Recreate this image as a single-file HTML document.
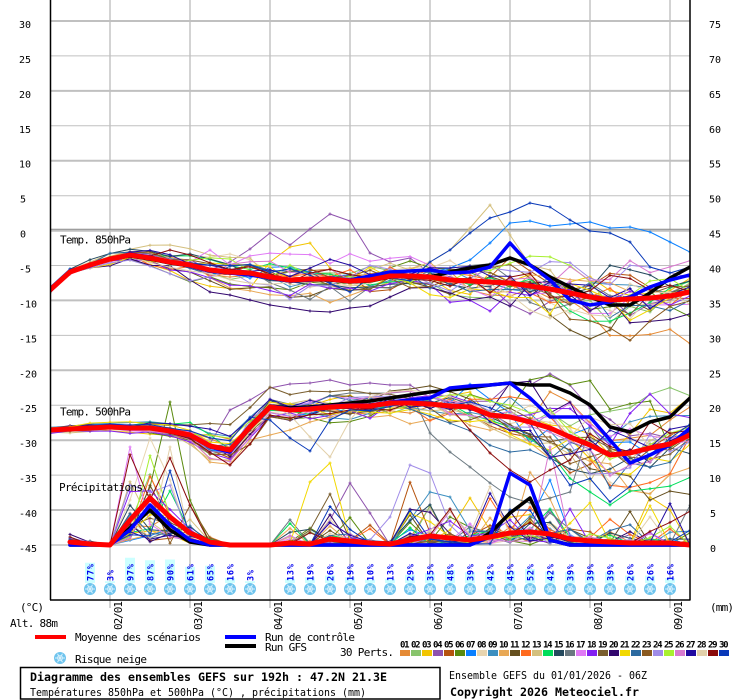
<!DOCTYPE html>
<html><head><meta charset="utf-8"><style>
html,body{margin:0;padding:0;background:#fff;}
svg{display:block;}
text{font-family:"DejaVu Sans Mono","Liberation Mono",monospace;fill:#000;}
</style></head><body>
<svg id="c" width="740" height="700" viewBox="0 0 740 700" xmlns="http://www.w3.org/2000/svg">
<defs>
<clipPath id="clp"><rect x="50" y="0" width="640" height="600"/></clipPath>
<g id="fl"><circle r="6" fill="#6ec4ee"/><path d="M-5 0H5M-2.5 -4.3L2.5 4.3M-2.5 4.3L2.5 -4.3" stroke="#fff" stroke-width="1" opacity="0.75"/><circle r="2.6" fill="none" stroke="#d0f0ff" stroke-width="0.8"/></g>
</defs>
<rect width="740" height="700" fill="#fff"/>
<g stroke="#c0c0c0" fill="none">
<line x1="50" x2="690" y1="21" y2="21" stroke-width="2"/>
<line x1="50" x2="690" y1="55.9" y2="55.9" stroke-width="1"/>
<line x1="50" x2="690" y1="90.9" y2="90.9" stroke-width="2"/>
<line x1="50" x2="690" y1="125.8" y2="125.8" stroke-width="1"/>
<line x1="50" x2="690" y1="160.7" y2="160.7" stroke-width="2"/>
<line x1="50" x2="690" y1="195.7" y2="195.7" stroke-width="1"/>
<line x1="50" x2="690" y1="265.5" y2="265.5" stroke-width="1"/>
<line x1="50" x2="690" y1="300.4" y2="300.4" stroke-width="2"/>
<line x1="50" x2="690" y1="335.4" y2="335.4" stroke-width="1"/>
<line x1="50" x2="690" y1="370.3" y2="370.3" stroke-width="2"/>
<line x1="50" x2="690" y1="405.2" y2="405.2" stroke-width="1"/>
<line x1="50" x2="690" y1="440.2" y2="440.2" stroke-width="2"/>
<line x1="50" x2="690" y1="475.1" y2="475.1" stroke-width="1"/>
<line x1="50" x2="690" y1="510" y2="510" stroke-width="2"/>
<line x1="50" x2="690" y1="545" y2="545" stroke-width="1.5"/>
<line x1="50" x2="690" y1="230.8" y2="230.8" stroke-width="2"/>
<line x1="110" x2="110" y1="0" y2="608" stroke-width="1.4"/>
<line x1="190" x2="190" y1="0" y2="608" stroke-width="1.4"/>
<line x1="270" x2="270" y1="0" y2="608" stroke-width="1.4"/>
<line x1="350" x2="350" y1="0" y2="608" stroke-width="1.4"/>
<line x1="430" x2="430" y1="0" y2="608" stroke-width="1.4"/>
<line x1="510" x2="510" y1="0" y2="608" stroke-width="1.4"/>
<line x1="590" x2="590" y1="0" y2="608" stroke-width="1.4"/>
<line x1="670" x2="670" y1="0" y2="608" stroke-width="1.4"/>
</g>
<line x1="50" x2="690" y1="229.2" y2="229.2" stroke="#888" stroke-width="1"/>

<!-- snow risk -->
<g fill="#ccffff">
<rect x="85" y="562.75" width="10" height="20.25"/>
<rect x="105" y="581.25" width="10" height="1.75"/>
<rect x="125" y="557.75" width="10" height="25.25"/>
<rect x="145" y="560.25" width="10" height="22.75"/>
<rect x="165" y="559.5" width="10" height="23.5"/>
<rect x="185" y="566.75" width="10" height="16.25"/>
<rect x="205" y="565.75" width="10" height="17.25"/>
<rect x="225" y="578" width="10" height="5"/>
<rect x="245" y="581.25" width="10" height="1.75"/>
<rect x="285" y="578.75" width="10" height="4.25"/>
<rect x="305" y="577.25" width="10" height="5.75"/>
<rect x="325" y="575.5" width="10" height="7.5"/>
<rect x="345" y="577.25" width="10" height="5.75"/>
<rect x="365" y="579.5" width="10" height="3.5"/>
<rect x="385" y="578.75" width="10" height="4.25"/>
<rect x="405" y="574.75" width="10" height="8.25"/>
<rect x="425" y="573.25" width="10" height="9.75"/>
<rect x="445" y="570" width="10" height="13"/>
<rect x="465" y="572.25" width="10" height="10.75"/>
<rect x="485" y="571.5" width="10" height="11.5"/>
<rect x="505" y="570.75" width="10" height="12.25"/>
<rect x="525" y="569" width="10" height="14"/>
<rect x="545" y="571.5" width="10" height="11.5"/>
<rect x="565" y="572.25" width="10" height="10.75"/>
<rect x="585" y="572.25" width="10" height="10.75"/>
<rect x="605" y="572.25" width="10" height="10.75"/>
<rect x="625" y="575.5" width="10" height="7.5"/>
<rect x="645" y="575.5" width="10" height="7.5"/>
<rect x="665" y="578" width="10" height="5"/>
</g>
<g font-size="8.5" font-weight="bold" lengthAdjust="spacingAndGlyphs">
<text transform="translate(93.5,581) rotate(-90)" textLength="17" style="fill:#0000f0">77%</text>
<text transform="translate(113.5,581) rotate(-90)" textLength="11" style="fill:#0000f0">3%</text>
<text transform="translate(133.5,581) rotate(-90)" textLength="17" style="fill:#0000f0">97%</text>
<text transform="translate(153.5,581) rotate(-90)" textLength="17" style="fill:#0000f0">87%</text>
<text transform="translate(173.5,581) rotate(-90)" textLength="17" style="fill:#0000f0">90%</text>
<text transform="translate(193.5,581) rotate(-90)" textLength="17" style="fill:#0000f0">61%</text>
<text transform="translate(213.5,581) rotate(-90)" textLength="17" style="fill:#0000f0">65%</text>
<text transform="translate(233.5,581) rotate(-90)" textLength="17" style="fill:#0000f0">16%</text>
<text transform="translate(253.5,581) rotate(-90)" textLength="11" style="fill:#0000f0">3%</text>
<text transform="translate(293.5,581) rotate(-90)" textLength="17" style="fill:#0000f0">13%</text>
<text transform="translate(313.5,581) rotate(-90)" textLength="17" style="fill:#0000f0">19%</text>
<text transform="translate(333.5,581) rotate(-90)" textLength="17" style="fill:#0000f0">26%</text>
<text transform="translate(353.5,581) rotate(-90)" textLength="17" style="fill:#0000f0">19%</text>
<text transform="translate(373.5,581) rotate(-90)" textLength="17" style="fill:#0000f0">10%</text>
<text transform="translate(393.5,581) rotate(-90)" textLength="17" style="fill:#0000f0">13%</text>
<text transform="translate(413.5,581) rotate(-90)" textLength="17" style="fill:#0000f0">29%</text>
<text transform="translate(433.5,581) rotate(-90)" textLength="17" style="fill:#0000f0">35%</text>
<text transform="translate(453.5,581) rotate(-90)" textLength="17" style="fill:#0000f0">48%</text>
<text transform="translate(473.5,581) rotate(-90)" textLength="17" style="fill:#0000f0">39%</text>
<text transform="translate(493.5,581) rotate(-90)" textLength="17" style="fill:#0000f0">42%</text>
<text transform="translate(513.5,581) rotate(-90)" textLength="17" style="fill:#0000f0">45%</text>
<text transform="translate(533.5,581) rotate(-90)" textLength="17" style="fill:#0000f0">52%</text>
<text transform="translate(553.5,581) rotate(-90)" textLength="17" style="fill:#0000f0">42%</text>
<text transform="translate(573.5,581) rotate(-90)" textLength="17" style="fill:#0000f0">39%</text>
<text transform="translate(593.5,581) rotate(-90)" textLength="17" style="fill:#0000f0">39%</text>
<text transform="translate(613.5,581) rotate(-90)" textLength="17" style="fill:#0000f0">39%</text>
<text transform="translate(633.5,581) rotate(-90)" textLength="17" style="fill:#0000f0">26%</text>
<text transform="translate(653.5,581) rotate(-90)" textLength="17" style="fill:#0000f0">26%</text>
<text transform="translate(673.5,581) rotate(-90)" textLength="17" style="fill:#0000f0">16%</text>
</g>
<use href="#fl" x="90" y="589"/><use href="#fl" x="110" y="589"/><use href="#fl" x="130" y="589"/><use href="#fl" x="150" y="589"/><use href="#fl" x="170" y="589"/><use href="#fl" x="190" y="589"/><use href="#fl" x="210" y="589"/><use href="#fl" x="230" y="589"/><use href="#fl" x="250" y="589"/><use href="#fl" x="290" y="589"/><use href="#fl" x="310" y="589"/><use href="#fl" x="330" y="589"/><use href="#fl" x="350" y="589"/><use href="#fl" x="370" y="589"/><use href="#fl" x="390" y="589"/><use href="#fl" x="410" y="589"/><use href="#fl" x="430" y="589"/><use href="#fl" x="450" y="589"/><use href="#fl" x="470" y="589"/><use href="#fl" x="490" y="589"/><use href="#fl" x="510" y="589"/><use href="#fl" x="530" y="589"/><use href="#fl" x="550" y="589"/><use href="#fl" x="570" y="589"/><use href="#fl" x="590" y="589"/><use href="#fl" x="610" y="589"/><use href="#fl" x="630" y="589"/><use href="#fl" x="650" y="589"/><use href="#fl" x="670" y="589"/>

<g id="data" clip-path="url(#clp)"></g>

<!-- frame -->
<g stroke="#000" stroke-width="1.5">
<line x1="50.5" y1="0" x2="50.5" y2="600"/>
<line x1="50" y1="600" x2="690.5" y2="600"/>
<line x1="690" y1="0" x2="690" y2="600"/>
</g>

<!-- in-plot labels -->
<g font-size="11" lengthAdjust="spacingAndGlyphs">
<text x="60" y="243.5" textLength="71">Temp. 850hPa</text>
<text x="60" y="415.5" textLength="71">Temp. 500hPa</text>
<text x="59" y="491" textLength="84">Précipitations</text>
</g>

<!-- left axis -->
<g font-size="10">
<text x="19" y="28">30</text><text x="19" y="62.9">25</text><text x="19" y="97.9">20</text><text x="19" y="132.8">15</text><text x="19" y="167.7">10</text><text x="20" y="202.7">5</text><text x="20" y="237.6">0</text><text x="19" y="272.5">-5</text><text x="19" y="307.4">-10</text><text x="19" y="342.4">-15</text><text x="19" y="377.3">-20</text><text x="19" y="412.2">-25</text><text x="19" y="447.2">-30</text><text x="19" y="482.1">-35</text><text x="19" y="517">-40</text><text x="19" y="552">-45</text>
</g>
<!-- right axis -->
<g font-size="10">
<text x="709" y="28">75</text><text x="709" y="62.9">70</text><text x="709" y="97.9">65</text><text x="709" y="132.8">60</text><text x="709" y="167.7">55</text><text x="709" y="202.7">50</text><text x="709" y="237.6">45</text><text x="709" y="272.5">40</text><text x="709" y="307.4">35</text><text x="709" y="342.4">30</text><text x="709" y="377.3">25</text><text x="709" y="412.2">20</text><text x="709" y="447.2">15</text><text x="709" y="482.1">10</text><text x="710" y="517">5</text><text x="710" y="552">0</text>
</g>
<g font-size="11" lengthAdjust="spacingAndGlyphs">
<text x="20" y="611" textLength="24">(°C)</text>
<text x="10" y="627" textLength="48">Alt. 88m</text>
<text x="710" y="611" textLength="24">(mm)</text>
</g>
<!-- dates -->
<g font-size="11" lengthAdjust="spacingAndGlyphs">
<text transform="translate(122,630) rotate(-90)" textLength="29">02/01</text>
<text transform="translate(202,630) rotate(-90)" textLength="29">03/01</text>
<text transform="translate(282,630) rotate(-90)" textLength="29">04/01</text>
<text transform="translate(362,630) rotate(-90)" textLength="29">05/01</text>
<text transform="translate(442,630) rotate(-90)" textLength="29">06/01</text>
<text transform="translate(522,630) rotate(-90)" textLength="29">07/01</text>
<text transform="translate(602,630) rotate(-90)" textLength="29">08/01</text>
<text transform="translate(682,630) rotate(-90)" textLength="29">09/01</text>
</g>

<!-- legend -->
<rect x="35" y="635" width="31" height="4" fill="#ff0000"/>
<rect x="225" y="635" width="31" height="4" fill="#0000ff"/>
<rect x="225" y="644" width="31" height="4" fill="#000"/>
<g font-size="11" lengthAdjust="spacingAndGlyphs">
<text x="75" y="641" textLength="126">Moyenne des scénarios</text>
<text x="265" y="641" textLength="90">Run de contrôle</text>
<text x="265" y="651" textLength="42">Run GFS</text>
<text x="340" y="656" textLength="54">30 Perts.</text>
<text x="75" y="663" textLength="72">Risque neige</text>
</g>
<use href="#fl" x="60" y="658"/>

<!-- member swatches -->
<g>
<rect x="400" y="650" width="10" height="6" fill="#e58a35"/><rect x="411" y="650" width="10" height="6" fill="#88c46c"/><rect x="422" y="650" width="10" height="6" fill="#f2c500"/><rect x="433" y="650" width="10" height="6" fill="#8e52ad"/><rect x="444" y="650" width="10" height="6" fill="#b5530e"/><rect x="455" y="650" width="10" height="6" fill="#5a8a0e"/><rect x="466" y="650" width="10" height="6" fill="#0a80ff"/><rect x="477" y="650" width="10" height="6" fill="#e8d5b0"/><rect x="488" y="650" width="10" height="6" fill="#3c8fc0"/><rect x="499" y="650" width="10" height="6" fill="#e8a855"/><rect x="510" y="650" width="10" height="6" fill="#654f1e"/><rect x="521" y="650" width="10" height="6" fill="#ff6a1e"/><rect x="532" y="650" width="10" height="6" fill="#d4c07e"/><rect x="543" y="650" width="10" height="6" fill="#00dd5a"/><rect x="554" y="650" width="10" height="6" fill="#254a5e"/><rect x="565" y="650" width="10" height="6" fill="#6a7880"/><rect x="576" y="650" width="10" height="6" fill="#e07af5"/><rect x="587" y="650" width="10" height="6" fill="#8320f2"/><rect x="598" y="650" width="10" height="6" fill="#7a5e2e"/><rect x="609" y="650" width="10" height="6" fill="#32066e"/><rect x="620" y="650" width="10" height="6" fill="#f2d800"/><rect x="631" y="650" width="10" height="6" fill="#2c6aa0"/><rect x="642" y="650" width="10" height="6" fill="#8a5a20"/><rect x="653" y="650" width="10" height="6" fill="#a08ce8"/><rect x="664" y="650" width="10" height="6" fill="#a8f030"/><rect x="675" y="650" width="10" height="6" fill="#d87ad0"/><rect x="686" y="650" width="10" height="6" fill="#200aa0"/><rect x="697" y="650" width="10" height="6" fill="#e2d0aa"/><rect x="708" y="650" width="10" height="6" fill="#8a0a0a"/><rect x="719" y="650" width="10" height="6" fill="#0838b8"/>
</g>
<g font-size="9" font-weight="bold" lengthAdjust="spacingAndGlyphs">
<text x="400" y="647.5" textLength="9.5">01</text><text x="411" y="647.5" textLength="9.5">02</text><text x="422" y="647.5" textLength="9.5">03</text><text x="433" y="647.5" textLength="9.5">04</text><text x="444" y="647.5" textLength="9.5">05</text><text x="455" y="647.5" textLength="9.5">06</text><text x="466" y="647.5" textLength="9.5">07</text><text x="477" y="647.5" textLength="9.5">08</text><text x="488" y="647.5" textLength="9.5">09</text><text x="499" y="647.5" textLength="9.5">10</text><text x="510" y="647.5" textLength="9.5">11</text><text x="521" y="647.5" textLength="9.5">12</text><text x="532" y="647.5" textLength="9.5">13</text><text x="543" y="647.5" textLength="9.5">14</text><text x="554" y="647.5" textLength="9.5">15</text><text x="565" y="647.5" textLength="9.5">16</text><text x="576" y="647.5" textLength="9.5">17</text><text x="587" y="647.5" textLength="9.5">18</text><text x="598" y="647.5" textLength="9.5">19</text><text x="609" y="647.5" textLength="9.5">20</text><text x="620" y="647.5" textLength="9.5">21</text><text x="631" y="647.5" textLength="9.5">22</text><text x="642" y="647.5" textLength="9.5">23</text><text x="653" y="647.5" textLength="9.5">24</text><text x="664" y="647.5" textLength="9.5">25</text><text x="675" y="647.5" textLength="9.5">26</text><text x="686" y="647.5" textLength="9.5">27</text><text x="697" y="647.5" textLength="9.5">28</text><text x="708" y="647.5" textLength="9.5">29</text><text x="719" y="647.5" textLength="9.5">30</text>
</g>

<!-- title box -->
<rect x="20.5" y="667.5" width="419.5" height="31.5" fill="none" stroke="#000" stroke-width="1.5"/>
<text x="30" y="681" font-size="11.5" font-weight="bold" textLength="357" lengthAdjust="spacingAndGlyphs">Diagramme des ensembles GEFS sur 192h : 47.2N 21.3E</text>
<text x="30" y="696" font-size="11" textLength="336" lengthAdjust="spacingAndGlyphs">Températures 850hPa et 500hPa (°C) , précipitations (mm)</text>
<text x="449" y="679" font-size="11" textLength="198" lengthAdjust="spacingAndGlyphs">Ensemble GEFS du 01/01/2026 - 06Z</text>
<text x="450" y="696" font-size="11.5" font-weight="bold" textLength="189" lengthAdjust="spacingAndGlyphs">Copyright 2026 Meteociel.fr</text>
</svg>
<script>
(function(){
var NS="http://www.w3.org/2000/svg";
var G=document.getElementById('data');
var cols=["#e58a35","#88c46c","#f2c500","#8e52ad","#b5530e","#5a8a0e","#0a80ff","#e8d5b0","#3c8fc0","#e8a855","#654f1e","#ff6a1e","#d4c07e","#00dd5a","#254a5e","#6a7880","#e07af5","#8320f2","#7a5e2e","#32066e","#f2d800","#2c6aa0","#8a5a20","#a08ce8","#a8f030","#d87ad0","#200aa0","#e2d0aa","#8a0a0a","#0838b8"];
var seed=20260101;
function rnd(){seed=(Math.imul(seed,1664525)+1013904223)>>>0;return seed/4294967296;}
function gs(){var u=rnd();if(u<1e-9)u=1e-9;return Math.sqrt(-2*Math.log(u))*Math.cos(6.283185*rnd());}
var m850=[290,272,265,259,255,258,262,265,270,272,273,277,280,279,279,281,280,276,276,277,280,281,282,283,286,289,293,297,300,299,298,296,292];
var s850=[1.5,2,2.5,3,3.5,4.5,5.5,6.5,7.5,8.5,9,9.5,10,10.5,11,11,11,11,11.5,12,12.5,13,14,15,16,17,18,18,18,18,17,17,17];
var m500=[430,429,428,427,428,428,431,435,446,450,427,407,410,409,407,406,406,403,403,404,406,407,415,417,422,428,437,445,455,453,448,444,435];
var s500=[1.5,1.5,2,2,2.5,3,3.5,4.5,7,8,9,8,8,8,8,8,8,8,8,9,10,12,14,16,19,21,23,24,24,24,24,23,22];
var mpr=[545,542,544,545,520,498,517,533,542,545,545,545,543,544,539,541,543,544,540,536,538,540,537,533,532,534,539,541,542,543,543,543,545];
function ar(sig,a){var d=[],v=gs();for(var i=0;i<33;i++){if(i>0)v=a*v+Math.sqrt(1-a*a)*gs();d.push(v*sig[i]);}return d;}
var T8=[],T5=[],PR=[],k,i;
for(k=0;k<30;k++){T8.push(ar(s850,0.8));T5.push(ar(s500,0.8));}
function center(arr,m){for(var i=0;i<33;i++){var s=0,k;for(k=0;k<arr.length;k++)s+=arr[k][i];s/=arr.length;for(k=0;k<arr.length;k++)arr[k][i]=m[i]+arr[k][i]-s;}}
center(T8,m850);center(T5,m500);
for(k=0;k<30;k++){var p=[];for(i=0;i<33;i++){var mm=(545-mpr[i])/7;var v=mm*Math.exp(0.9*gs()-0.4);
 if(v>14)v=14;
 if(i>=12){if(rnd()<0.16)v+=-Math.log(rnd()+1e-9)*1.3;if(rnd()<0.022)v+=3-Math.log(rnd()+1e-9)*3;}
 if(i>=20&&rnd()<0.1)v+=-Math.log(rnd()+1e-9)*1.8;
 var y=545-7*v;if(y<440)y=440;p.push(y);}PR.push(p);}
function ov(arr,n,o){for(var key in o)arr[n-1][+key]=o[key];}
// T850 overrides
ov(T8,4,{9:262,10:249,11:233,12:245,13:229,14:214,15:221,16:253,17:262,18:258});
ov(T8,30,{19:262,20:250,21:233,22:218,23:212,24:203,25:207,26:220,27:231,28:233,29:242,30:267,31:273,32:267});
ov(T8,7,{20:268,21:260,22:243,23:223,24:221,25:226,26:224,27:222,28:228,29:227,30:232,31:242,32:252});
ov(T8,13,{18:270,19:262,20:250,21:228,22:205,23:235,24:265,25:270});
ov(T8,20,{7:280,8:292,9:295,10:300,11:305,12:308,13:311,14:312,15:308,16:306,17:297,18:288});
ov(T8,11,{25:315,26:330,27:339,28:330});
ov(T8,17,{7:262,8:250,9:265});
ov(T8,3,{11:262,12:247,13:243,14:268});
ov(T8,29,{5:256,6:250,7:255});
// T500 overrides
ov(T5,30,{11:420,12:438,13:451,14:420,15:410});
ov(T5,28,{12:415,13:437,14:457,15:420});
ov(T5,10,{10:440,11:435,12:430,13:422});
ov(T5,4,{9:410,10:400,11:388,12:384,13:383,14:380,15:385,16:383,17:385,18:385});
ov(T5,16,{19:433,20:452,21:467,22:483,23:497,24:503,25:498,26:492});
ov(T5,29,{21:430,22:453,23:470,24:482,25:470,26:460});
// precip overrides
ov(PR,6,{4:530,5:487,6:402,7:500,8:543});
ov(PR,29,{5:500,6:458,7:505});
ov(PR,8,{4:500,5:438,6:480});
ov(PR,21,{12:543,13:482,14:463,15:540});
ov(PR,4,{14:520,15:483,16:513,17:545});
ov(PR,19,{13:530,14:494,15:540});
ov(PR,24,{16:540,17:517,18:465,19:473,20:525});
ov(PR,9,{18:520,19:492,20:497,21:530});
ov(PR,3,{20:530,21:498,22:530});
ov(PR,7,{24:520,25:480,26:535});
ov(PR,12,{23:530,24:507,25:530});
function line(arr,from,col,w){var pts=[];for(var i=from;i<33;i++)pts.push((50+20*i)+','+arr[i].toFixed(1));var p=document.createElementNS(NS,'polyline');p.setAttribute('points',pts.join(' '));p.setAttribute('fill','none');p.setAttribute('stroke',col);p.setAttribute('stroke-width',w);p.setAttribute('stroke-linejoin','round');p.setAttribute('stroke-linecap','round');G.appendChild(p);}
function marks(arr,from,col){var d='';for(var i=from;i<33;i++){var x=50+20*i,y=arr[i];d+='M'+(x-1.5)+' '+y.toFixed(1)+'h3M'+x+' '+(y-1.5).toFixed(1)+'v3';}var p=document.createElementNS(NS,'path');p.setAttribute('d',d);p.setAttribute('stroke',col);p.setAttribute('stroke-width',1);p.setAttribute('fill','none');G.appendChild(p);}
for(k=0;k<30;k++){
 line(T8[k],0,cols[k],1);marks(T8[k],0,cols[k]);
 line(T5[k],0,cols[k],1);marks(T5[k],0,cols[k]);
 line(PR[k],1,cols[k],1);marks(PR[k],1,cols[k]);
}
var g850=[291,272,265,259,256,259,263,266,271,273,274,278,281,280,280,282,281,277,276,277,272,268,265,258,265,277,287,297,305,305,293,278,267];
var g500=[430,429,428,427,428,428,431,435,446,450,426,406,408,407,405,403,401,398,395,392,390,388,385,383,385,385,393,405,427,432,422,417,398];
var gpr=[545,545,545,545,528,510,530,542,545,545,545,545,545,545,545,545,545,545,545,545,545,545,533,513,498,540,545,545,545,545,545,545,545];
var c850=[291,272,266,259,254,257,262,266,271,273,275,278,281,280,278,280,276,272,271,270,273,272,267,243,265,280,300,305,302,297,287,280,275];
var c500=[430,429,428,426,427,428,431,436,447,452,428,406,409,408,406,405,405,402,400,398,388,386,385,383,398,417,417,417,440,463,455,445,428];
var cpr=[545,545,545,545,530,505,525,540,545,545,545,545,545,545,545,545,545,545,545,545,545,545,537,473,485,540,545,545,545,545,545,545,545];
line(g850,0,"#000",3.5);line(g500,0,"#000",3.5);line(gpr,1,"#000",3.5);
line(c850,0,"#0000ff",3.5);line(c500,0,"#0000ff",3.5);line(cpr,1,"#0000ff",3.5);
line(m850,0,"#ff0000",5);line(m500,0,"#ff0000",5);line(mpr,1,"#ff0000",5);
})();
</script>
</body></html>
